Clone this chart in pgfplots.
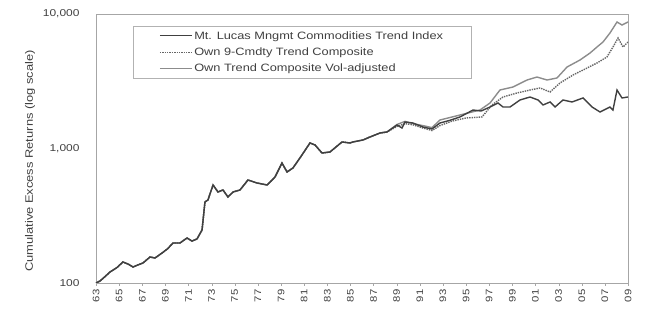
\documentclass[border=0pt]{standalone}
\usepackage{pgfplots}
\pgfplotsset{compat=1.18}
\usepackage{fontspec}
\setmainfont[FakeStretch=1.2]{Liberation Sans}
\setsansfont[FakeStretch=1.2]{Liberation Sans}
\begin{document}
\begin{tikzpicture}
\path[use as bounding box] (-96bp,-46bp) rectangle (571bp,283bp);
\begin{axis}[
  scale only axis, width=532bp, height=269bp,
  at={(0,0)}, anchor=south west,
  ymode=log, ymin=100, ymax=10000,
  xmin=1963, xmax=2009,
  xtick={1963,1965,...,2009},
  xticklabels={63,65,67,69,71,73,75,77,79,81,83,85,87,89,91,93,95,97,99,01,03,05,07,09},
  x tick label style={rotate=90, anchor=east, font=\fontsize{9.5}{11}\selectfont, text=black!75},
  ytick={100,1000,10000},
  yticklabels={100,{1,000},{10,000}},
  y tick label style={font=\fontsize{10}{12}\selectfont, text=black!75, xshift=-10bp},
  yminorticks=false,
  xtick pos=lower, ytick pos=left,
  tick align=outside,
  major tick length=3bp,
  tick style={black!35},
  ytick style={draw=none},
  axis line style={black!35, line width=0.8pt},
  every axis y label/.style={at={(rel axis cs:0,0.4535)}, xshift=-66bp, rotate=90, anchor=center, font=\fontsize{10.8}{13}\selectfont, text=black!75},
  ylabel={Cumulative Excess Returns (log scale)},
  legend style={at={(rel axis cs:0.0695,0.955)}, anchor=north west, draw=black!30, line width=0.6pt,
    font=\fontsize{10.7}{13}\selectfont, text=black!75, inner xsep=26bp, inner ysep=3bp, row sep=3bp},
  legend cell align=left,
  reverse legend,
  legend image code/.code={\draw[#1, line width=1pt] (0bp,0bp) -- (32bp,0bp);},
]
% Own Trend Composite Vol-adjusted
\addplot[black!45, line width=1.4pt] coordinates {
(1963.00,100) (1963.35,103.5) (1963.8,112) (1964.21,120.7) (1964.8,130) (1965.33,143.3) (1965.8,138) (1966.20,131.5) (1966.6,136) (1967.06,140.8) (1967.67,156.1) (1968.10,153.4) (1968.71,167.1) (1969.2,180) (1969.66,198.4) (1970.26,198.4) (1970.87,216.1) (1971.3,205) (1971.73,212.4) (1972.17,247.8) (1972.42,400.2) (1972.68,414.1) (1973.12,535.4) (1973.55,475.0) (1973.98,491.5) (1974.41,435.9) (1974.85,475.0) (1975.45,491.5) (1976.14,583.3) (1976.92,554.1) (1977.79,535.4) (1978.48,614.1) (1979.08,780.2) (1979.52,668.9) (1979.77,692.1) (1980.03,716.2) (1980.81,894.8) (1981.50,1099) (1981.94,1062) (1982.54,925.7) (1983.23,941.8) (1984.27,1118) (1984.96,1099) (1985.22,1118) (1986.09,1157) (1986.69,1218) (1987.56,1304) (1988.16,1327)
(1989.03,1510) (1989.72,1590) (1990.41,1530) (1991.27,1480) (1992.05,1430) (1992.74,1629) (1994.47,1775) (1996.20,1933) (1997.07,2179) (1997.93,2722) (1999.06,2866) (2000.27,3230) (2001.13,3400) (2002.00,3230) (2002.86,3344) (2003.73,4036) (2004.85,4550) (2005.72,5129) (2006.32,5684) (2006.84,6194) (2007.44,7223) (2008.05,8719) (2008.48,8282) (2009.00,8719)
};
\addlegendentry{Own Trend Composite Vol-adjusted}
% Own 9-Cmdty Trend Composite
\addplot[black!60, line width=1.4pt, densely dotted] coordinates {
(1963.00,100) (1963.35,103.5) (1963.8,112) (1964.21,120.7) (1964.8,130) (1965.33,143.3) (1965.8,138) (1966.20,131.5) (1966.6,136) (1967.06,140.8) (1967.67,156.1) (1968.10,153.4) (1968.71,167.1) (1969.2,180) (1969.66,198.4) (1970.26,198.4) (1970.87,216.1) (1971.3,205) (1971.73,212.4) (1972.17,247.8) (1972.42,400.2) (1972.68,414.1) (1973.12,535.4) (1973.55,475.0) (1973.98,491.5) (1974.41,435.9) (1974.85,475.0) (1975.45,491.5) (1976.14,583.3) (1976.92,554.1) (1977.79,535.4) (1978.48,614.1) (1979.08,780.2) (1979.52,668.9) (1979.77,692.1) (1980.03,716.2) (1980.81,894.8) (1981.50,1099) (1981.94,1062) (1982.54,925.7) (1983.23,941.8) (1984.27,1118) (1984.96,1099) (1985.22,1118) (1986.09,1157) (1986.69,1218) (1987.56,1304) (1988.16,1327)
(1989.03,1460) (1989.72,1530) (1990.41,1500) (1991.27,1420) (1992.05,1360) (1992.74,1480) (1993.8,1600) (1994.99,1686) (1996.37,1715) (1997.24,2106) (1998.19,2415) (1999.40,2586) (2000.53,2722) (2001.39,2818) (2002.26,2631) (2003.12,3069) (2004.25,3520) (2005.46,3968) (2006.32,4322) (2007.18,4790) (2007.70,5684) (2008.14,6632) (2008.57,5684) (2009.00,6194)
};
\addlegendentry{Own 9-Cmdty Trend Composite}
% Mt. Lucas
\addplot[black!75, line width=1.4pt] coordinates {
(1963.00,100) (1963.35,103.5) (1963.8,112) (1964.21,120.7) (1964.8,130) (1965.33,143.3) (1965.8,138) (1966.20,131.5) (1966.6,136) (1967.06,140.8) (1967.67,156.1) (1968.10,153.4) (1968.71,167.1) (1969.2,180) (1969.66,198.4) (1970.26,198.4) (1970.87,216.1) (1971.3,205) (1971.73,212.4) (1972.17,247.8) (1972.42,400.2) (1972.68,414.1) (1973.12,535.4) (1973.55,475.0) (1973.98,491.5) (1974.41,435.9) (1974.85,475.0) (1975.45,491.5) (1976.14,583.3) (1976.92,554.1) (1977.79,535.4) (1978.48,614.1) (1979.08,780.2) (1979.52,668.9) (1979.77,692.1) (1980.03,716.2) (1980.81,894.8) (1981.50,1099) (1981.94,1062) (1982.54,925.7) (1983.23,941.8) (1984.27,1118) (1984.96,1099) (1985.22,1118) (1986.09,1157) (1986.69,1218) (1987.56,1304) (1988.16,1327)
(1989.03,1495) (1989.46,1420) (1989.72,1574) (1990.41,1547) (1991.27,1445) (1992.05,1396) (1992.74,1547) (1993.6,1620) (1994.47,1715) (1995.60,1933) (1996.3,1900) (1997.07,2035) (1997.76,2179) (1998.19,2035) (1998.80,2035) (1999.66,2294) (2000.53,2415) (2001.22,2294) (2001.65,2106) (2002.26,2217) (2002.69,2035) (2003.38,2294) (2004.16,2217) (2005.11,2375) (2005.89,2035) (2006.58,1868) (2007.44,2035) (2007.70,1933) (2008.05,2722) (2008.48,2375) (2009.00,2415)
};
\addlegendentry{Mt. Lucas Mngmt Commodities Trend Index}
\end{axis}
\end{tikzpicture}
\end{document}
